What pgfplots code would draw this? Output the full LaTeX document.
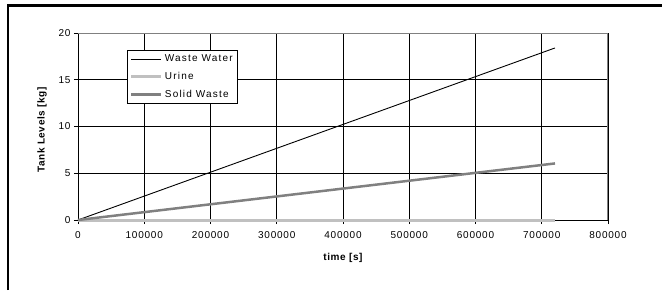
\documentclass[border=0pt]{standalone}
\usepackage{fontspec}
\setmainfont{Liberation Sans}[LetterSpace=8]
\newfontfamily\legfont{Liberation Sans}[LetterSpace=12]
\newfontfamily\labfont{Liberation Sans}[LetterSpace=6]
\usepackage{pgfplots}
\pgfplotsset{compat=1.18}
\definecolor{urinec}{RGB}{192,192,192}
\definecolor{solidc}{RGB}{128,128,128}
\begin{document}
\begin{tikzpicture}[x=1pt,y=1pt]
\begin{axis}[
  at={(78pt,70pt)}, anchor=south west,
  scale only axis, width=530pt, height=187pt,
  xmin=0, xmax=800000, ymin=0, ymax=20,
  xtick={0,100000,200000,300000,400000,500000,600000,700000,800000},
  ytick={0,5,10,15,20},
  scaled x ticks=false,
  axis lines*=left,
  axis line style={black, line width=0.8pt},
  tick align=outside,
  major tick length=4pt,
  tick style={black, line width=0.8pt},
  grid=major, major grid style={black, line width=0.8pt},
  /pgf/number format/assume math mode=true,
  xticklabel style={/pgf/number format/1000 sep={}, /pgf/number format/fixed, yshift=-4pt},
  tick label style={font=\fontsize{10}{12}\selectfont},
  every axis x label/.style={at={(axis description cs:0.5,-0.203)}, anchor=center},
  every axis y label/.style={at={(axis description cs:-0.068,0.481)}, anchor=center, rotate=90},
  xlabel={\fontsize{10}{12}\selectfont\labfont\bfseries time [s]},
  ylabel={\fontsize{10}{12}\selectfont\labfont\bfseries Tank Levels [kg]},
  clip=false,
  legend style={at={(0.0925,0.909)}, anchor=north west, draw=black, line width=0.8pt,
    font=\fontsize{10}{12}\selectfont\legfont, row sep=5pt, inner sep=2.5pt,
    nodes={inner sep=2pt}},
  legend cell align=left,
  legend image code/.code={\draw[#1] (0pt,0pt) -- (30pt,0pt);},
]
\addplot[black, line width=0.9pt] coordinates {(0,0) (720000,18.4)};
\addlegendentry{Waste Water}
\addplot[urinec, line width=3pt] coordinates {(0,0) (720000,0)};
\addlegendentry{Urine}
\addplot[solidc, line width=2.5pt] coordinates {(0,0) (720000,6.05)};
\addlegendentry{Solid Waste}
\draw[gray, line width=1pt] (rel axis cs:0,1) -- (rel axis cs:1,1) -- (rel axis cs:1,0);
\end{axis}
\draw[black, line width=2.5pt, line join=miter] (8,0) -- (8,284.5) -- (662,284.5);
\pgfresetboundingbox
\useasboundingbox (0,0) rectangle (662,290);
\end{tikzpicture}
\end{document}
